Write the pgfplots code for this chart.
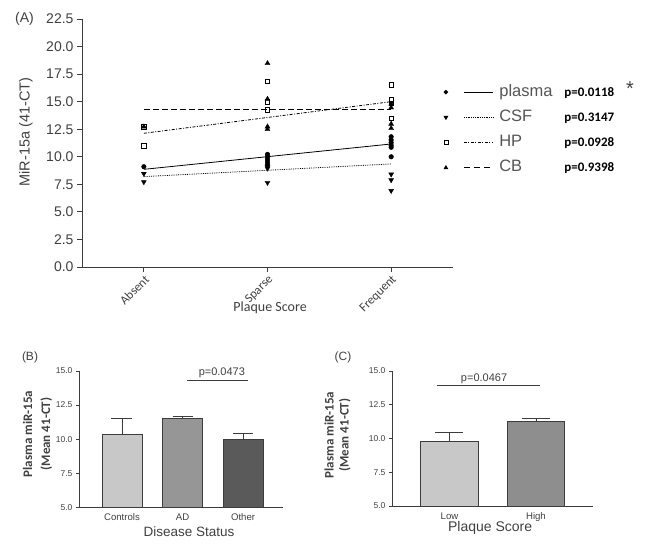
\documentclass[border=0pt]{standalone}
\usepackage{fontspec}
\setmainfont{Liberation Sans}
\newfontfamily\calfont{Carlito}
\usepackage{pgfplots}
\pgfplotsset{compat=1.18}

\definecolor{axcol}{HTML}{3C3C3C}
\definecolor{txtcol}{HTML}{404040}
\definecolor{legtxt}{HTML}{555555}
\definecolor{barlight}{HTML}{C8C8C8}
\definecolor{barmid}{HTML}{969696}
\definecolor{bardark}{HTML}{5A5A5A}
\definecolor{barhigh}{HTML}{8E8E8E}

\pgfplotsset{
  every axis/.append style={
    scale only axis, anchor=south west, axis lines=left,
    axis line style={-, draw=axcol, line width=0.9pt},
    tick style={draw=axcol, line width=0.8pt}, tick align=outside,
    ticklabel style={text=txtcol},
    yticklabel style={/pgf/number format/fixed, /pgf/number format/fixed zerofill,
      /pgf/number format/precision=1},
    /pgf/number format/assume math mode=true,
    clip=false},
  bars/.style 2 args={ybar, bar width=#1, bar shift=0pt, draw=axcol, line width=0.8pt,
    error bars/y dir=plus, error bars/y explicit,
    error bars/error bar style={draw=axcol, line width=0.8pt},
    error bars/error mark options={rotate=90, mark size=#2, line width=0.8pt, draw=axcol}},
}

\begin{document}
\begin{tikzpicture}[x=1pt,y=1pt]
\useasboundingbox (0,0) rectangle (645,546);

% ---- (A) scatter with regression lines
\begin{axis}[at={(82pt,279pt)}, width=371pt, height=248pt,
  xmin=-0.5, xmax=2.5, ymin=0, ymax=22.5,
  xtick={0,1,2}, xticklabels={Absent,Sparse,Frequent},
  ytick={0,2.5,5,7.5,10,12.5,15,17.5,20,22.5},
  major tick length=5pt,
  yticklabel style={font=\fontsize{14}{16}\selectfont},
  xticklabel style={rotate=45, anchor=north east, inner sep=1.5pt,
    font=\calfont\fontsize{12.5}{14}\selectfont},
  xlabel={Plaque Score}, ylabel={MiR-15a (41-CT)},
  every axis x label/.style={at={(axis description cs:0.507,-0.165)}, anchor=center,
    font=\calfont\fontsize{14}{16}\selectfont, text=txtcol},
  every axis y label/.style={at={(axis description cs:-0.151,0.544)}, rotate=90, anchor=center,
    font=\fontsize{14.5}{16}\selectfont, text=txtcol},
  legend cell align=left,
  legend style={at={(axis description cs:0.975,0.738)}, anchor=north west, draw=none, fill=none,
    inner sep=0pt, row sep=9.2pt, font=\fontsize{16.5}{18}\selectfont,
    nodes={inner sep=0pt, text height=12pt, text depth=4pt, text=legtxt},
    /tikz/every odd column/.append style={column sep=6pt}}]

\addplot[black, line width=0.8pt,
  legend image code/.code={\draw[mark=*, mark size=1.8pt] plot coordinates {(0pt,0pt)};
    \draw[line width=0.8pt] (18pt,0pt) -- (47pt,0pt);}]
  coordinates {(0,8.86) (2,11.16)};
\addlegendentry{\makebox[65pt][l]{plasma}{\color{black}\calfont\bfseries\fontsize{13}{15}\selectfont p=0.0118}}
\addplot[black, line width=0.8pt, densely dotted,
  legend image code/.code={\draw[solid, mark=triangle*, mark size=2pt, mark options={rotate=180}] plot coordinates {(0pt,0pt)};
    \draw[densely dotted, line width=0.8pt] (18pt,0pt) -- (47pt,0pt);}]
  coordinates {(0,8.2) (2,9.35)};
\addlegendentry{\makebox[65pt][l]{CSF}{\color{black}\calfont\bfseries\fontsize{13}{15}\selectfont p=0.3147}}
\addplot[black, line width=0.8pt, dash pattern=on 3pt off 1.5pt on 1pt off 1.5pt,
  legend image code/.code={\draw[solid, mark=square, mark size=2pt, fill=white] plot coordinates {(0pt,0pt)};
    \draw[dash pattern=on 3pt off 1.5pt on 1pt off 1.5pt, line width=0.8pt] (18pt,0pt) -- (47pt,0pt);}]
  coordinates {(0,12.13) (2,15.0)};
\addlegendentry{\makebox[65pt][l]{HP}{\color{black}\calfont\bfseries\fontsize{13}{15}\selectfont p=0.0928}}
\addplot[black, line width=0.8pt, dash pattern=on 6pt off 3pt,
  legend image code/.code={\draw[solid, mark=triangle*, mark size=2pt] plot coordinates {(0pt,0pt)};
    \draw[dash pattern=on 6pt off 4pt, line width=0.8pt] (18pt,0pt) -- (47pt,0pt);}]
  coordinates {(0,14.31) (2,14.31)};
\addlegendentry{\makebox[65pt][l]{CB}{\color{black}\calfont\bfseries\fontsize{13}{15}\selectfont p=0.9398}}

% points
\addplot[only marks, mark=*, mark size=2.3pt, black, forget plot] coordinates {
  (0,9.1) (1,10.22) (1,10.0) (1,9.77) (1,9.53) (1,9.32)
  (2,11.82) (2,11.52) (2,11.28) (2,11.04) (2,10.86) (2,10.0)};
\addplot[only marks, mark=triangle*, mark size=2.8pt, mark options={rotate=180}, black, forget plot] coordinates {
  (0,8.47) (0,7.71) (1,9.1) (1,8.95) (1,7.65) (2,8.41) (2,7.89) (2,6.92)};
\addplot[only marks, mark=triangle*, mark size=2.8pt, black, forget plot] coordinates {
  (0,12.73) (1,18.48) (1,15.24) (1,12.73) (1,12.49) (2,14.8) (2,14.46) (2,12.98) (2,12.58)};
\addplot[only marks, mark=square, mark size=2.3pt, black, line width=0.7pt, forget plot] coordinates {
  (0,12.7) (0,10.98) (1,16.85) (1,15.0) (1,14.25) (2,16.52) (2,15.15) (2,14.85) (2,13.49)};
\end{axis}

% ---- (B) disease status
\begin{axis}[at={(79pt,38.7pt)}, width=204pt, height=136.3pt,
  xmin=-0.71, xmax=2.66, ymin=5, ymax=15,
  ytick={5,7.5,10,12.5,15}, xtick={0,1,2}, xticklabels={Controls,AD,Other},
  major tick length=3pt, x tick style={draw=none},
  yticklabel style={font=\fontsize{8.5}{10}\selectfont},
  xticklabel style={font=\fontsize{9.6}{11}\selectfont},
  xlabel={Disease Status}, ylabel={Plasma miR-15a\\(Mean 41-CT)},
  every axis x label/.style={at={(axis description cs:0.539,-0.181)}, anchor=center,
    font=\fontsize{13.5}{15}\selectfont, text=txtcol},
  every axis y label/.style={at={(axis description cs:-0.203,0.538)}, rotate=90, anchor=center,
    align=center, font=\calfont\bfseries\fontsize{13}{18}\selectfont, text=txtcol}]
\addplot[bars={40pt}{10.5pt}, fill=barlight] coordinates {(0,10.37) +- (0,1.12)};
\addplot[bars={40pt}{10pt}, fill=barmid] coordinates {(1,11.51) +- (0,0.15)};
\addplot[bars={40pt}{10pt}, fill=bardark] coordinates {(2,10.0) +- (0,0.41)};
\addplot[axcol, line width=0.8pt] coordinates {(1.07,14.31) (2.08,14.31)};
\node[text=txtcol, font=\fontsize{11}{13}\selectfont] at (axis cs:1.65,14.85) {p=0.0473};
\end{axis}

% ---- (C) plaque score
\begin{axis}[at={(392pt,40pt)}, width=201pt, height=135pt,
  xmin=-0.665, xmax=1.66, ymin=5, ymax=15,
  ytick={5,7.5,10,12.5,15}, xtick={0,1}, xticklabels={Low,High},
  major tick length=3pt, x tick style={draw=none},
  yticklabel style={font=\fontsize{8.5}{10}\selectfont},
  xticklabel style={font=\fontsize{9.6}{11}\selectfont},
  xlabel={Plaque Score}, ylabel={Plasma miR-15a\\(Mean 41-CT)},
  every axis x label/.style={at={(axis description cs:0.488,-0.163)}, anchor=center,
    font=\fontsize{14}{15}\selectfont, text=txtcol},
  every axis y label/.style={at={(axis description cs:-0.271,0.526)}, rotate=90, anchor=center,
    align=center, font=\calfont\bfseries\fontsize{13}{15}\selectfont, text=txtcol}]
\addplot[bars={57.6pt}{14pt}, fill=barlight] coordinates {(0,9.8) +- (0,0.62)};
\addplot[bars={57.6pt}{14pt}, fill=barhigh] coordinates {(1,11.25) +- (0,0.27)};
\addplot[axcol, line width=0.8pt] coordinates {(-0.145,13.9) (1.046,13.9)};
\node[text=txtcol, font=\fontsize{11}{13}\selectfont] at (axis cs:0.4,14.39) {p=0.0467};
\end{axis}

\node[text=txtcol, font=\fontsize{20}{22}\selectfont] at (630pt,457.6pt) {*};
\node[text=txtcol, font=\fontsize{14}{16}\selectfont] at (24.5pt,527pt) {(A)};
\node[text=txtcol, font=\fontsize{12}{14}\selectfont] at (30pt,189pt) {(B)};
\node[text=txtcol, font=\fontsize{12}{14}\selectfont] at (343pt,189pt) {(C)};
\end{tikzpicture}
\end{document}
